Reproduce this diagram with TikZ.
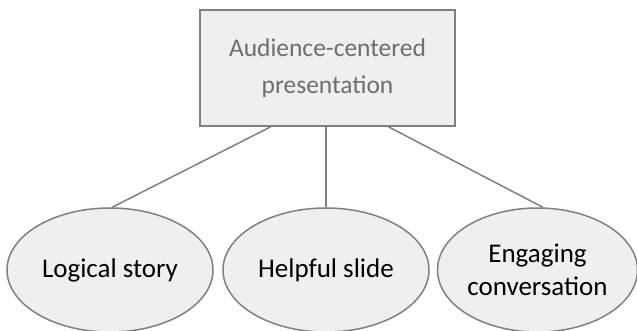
\documentclass[tikz,border=0pt]{standalone}
\usepackage{fontspec}
\setmainfont{Carlito}
\usetikzlibrary{shapes.geometric, positioning}
\definecolor{grisTrait}{RGB}{128, 128, 128}
\definecolor{grisFond}{RGB}{239, 239, 239}
\definecolor{grisTexte}{RGB}{110, 110, 110}

\begin{document}
\begin{tikzpicture}[x=1pt, y=-1pt,
    boite/.style={draw=grisTrait, fill=grisFond, line width=1.5pt, minimum width=255pt, minimum height=116pt, align=center, text=grisTexte, font=\fontsize{25.5}{37}\selectfont},
    bulle/.style={ellipse, draw=grisTrait, fill=grisFond, line width=1.5pt, minimum width=206pt, minimum height=124pt, inner sep=0pt, align=center, font=\fontsize{27}{33}\selectfont},
    lien/.style={draw=grisTrait, line width=1.5pt}]
        % Cadre de l'image
        \useasboundingbox (0,0) rectangle (637,331);
        
        % Le rectangle du haut
        \node[boite] (top) at (327.5,68) {Audience-centered\\presentation};
        
        % Les trois ellipses
        \node[bulle] (story) at (110,270) {Logical story};
        \node[bulle] (slide) at (326,270) {Helpful slide};
        \node[bulle, minimum width=200pt] (talk) at (537.5,270) {Engaging\\conversation};
        
        % Les liens
        \draw[lien] (top.-134) -- (story.88);
        \draw[lien] (top.south -| slide.north) -- (slide.north);
        \draw[lien] (top.-44) -- (talk.85);
    \end{tikzpicture}
\end{document}
